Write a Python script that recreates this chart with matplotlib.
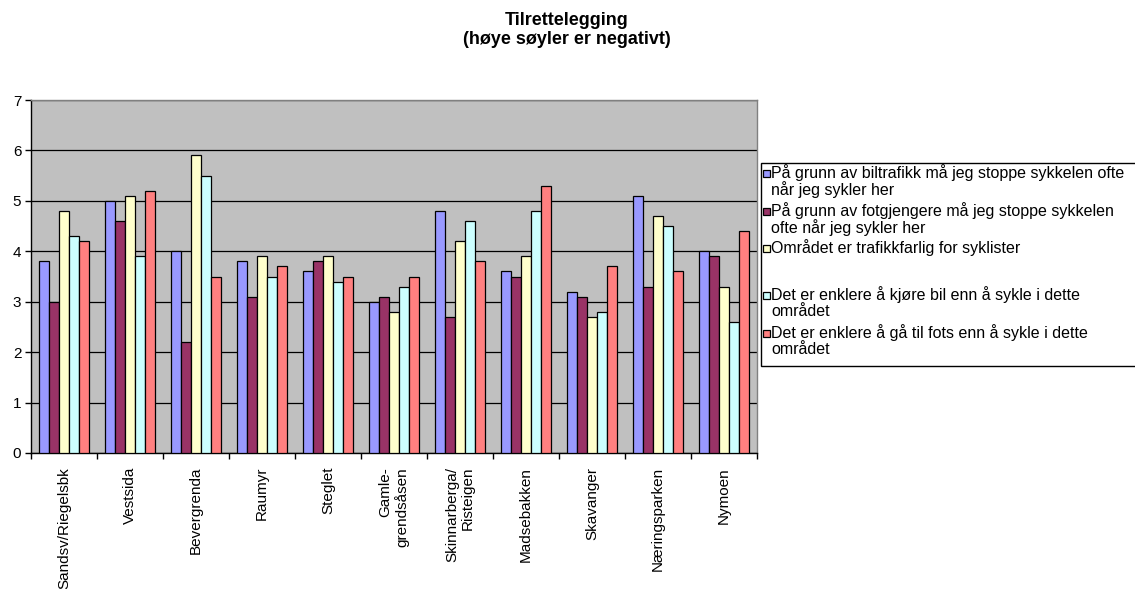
import numpy as np
import matplotlib
matplotlib.use("Agg")
import matplotlib.pyplot as plt
from matplotlib.patches import Rectangle

plt.rcParams['font.family'] = ['Liberation Sans', 'DejaVu Sans']

# Areas along the x axis
areas = ["Sandsv/Riegelsbk", "Vestsida", "Bevergrenda", "Raumyr", "Steglet",
         "Gamle-\ngrendsåsen", "Skinnarberga/\nRisteigen", "Madsebakken",
         "Skavanger", "Næringsparken", "Nymoen"]

# Mean score per statement and area
biltrafikk   = [3.8, 5.0, 4.0, 3.8, 3.6, 3.0, 4.8, 3.6, 3.2, 5.1, 4.0]
fotgjengere  = [3.0, 4.6, 2.2, 3.1, 3.8, 3.1, 2.7, 3.5, 3.1, 3.3, 3.9]
trafikkfarlig = [4.8, 5.1, 5.9, 3.9, 3.9, 2.8, 4.2, 3.9, 2.7, 4.7, 3.3]
enklere_bil  = [4.3, 3.9, 5.5, 3.5, 3.4, 3.3, 4.6, 4.8, 2.8, 4.5, 2.6]
enklere_fots = [4.2, 5.2, 3.5, 3.7, 3.5, 3.5, 3.8, 5.3, 3.7, 3.6, 4.4]

series_names = [
    "På grunn av biltrafikk må jeg stoppe sykkelen ofte\nnår jeg sykler her",
    "På grunn av fotgjengere må jeg stoppe sykkelen\nofte når jeg sykler her",
    "Området er trafikkfarlig for syklister",
    "Det er enklere å kjøre bil enn å sykle i dette\nområdet",
    "Det er enklere å gå til fots enn å sykle i dette\nområdet",
]
series_values = [biltrafikk, fotgjengere, trafikkfarlig, enklere_bil, enklere_fots]
colors = ["#9999FF", "#993366", "#FFFFCC", "#CCFFFF", "#FF8080"]

W, H = 1135, 589
fig = plt.figure(figsize=(W / 100, H / 100), dpi=100)
fig.patch.set_facecolor("white")

def px(x, y):
    return x / W, 1 - y / H

ax = fig.add_axes([31 / W, (H - 453) / H, 726 / W, 353 / H])
ax.set_facecolor("#C0C0C0")

n = len(series_values)
bw = 1 / (n + 1.5)
x = np.arange(len(areas))
for i, (vals, col) in enumerate(zip(series_values, colors)):
    ax.bar(x + (i - (n - 1) / 2) * bw, vals, width=bw, color=col,
           edgecolor="black", linewidth=0.9, zorder=3)

ax.set_xlim(-0.5, len(areas) - 0.5)
ax.set_ylim(0, 7)
ax.set_yticks(range(0, 8))
ax.yaxis.grid(True, color="black", linewidth=0.9, zorder=1)
ax.set_axisbelow(True)

ax.set_xticks(x)
ax.set_xticklabels(areas, rotation=90, fontsize=11, multialignment="right")
ax.set_xticks(np.arange(-0.5, len(areas)), minor=True)
ax.tick_params(axis="x", which="major", length=0, pad=10)
ax.tick_params(axis="x", which="minor", length=4, width=1, color="black")
ax.tick_params(axis="y", length=4, width=1, labelsize=11, pad=3)

for s in ("left", "bottom"):
    ax.spines[s].set_color("black")
    ax.spines[s].set_linewidth(1.0)
for s in ("top", "right"):
    ax.spines[s].set_color("#808080")
    ax.spines[s].set_linewidth(1.0)

fig.text(567 / W, 1 - 30 / H, "Tilrettelegging\n(høye søyler er negativt)",
         ha="center", va="center", fontsize=13, fontweight="bold",
         linespacing=1.2)

# Legend box with a swatch per series
x0, y0 = px(761, 366)
x1, y1 = px(1140, 163)
fig.patches.append(Rectangle((x0, y0), x1 - x0, y1 - y0, transform=fig.transFigure,
                             facecolor="white", edgecolor="black", linewidth=1.0))
entry_y = [173, 211, 248, 295, 333]
for name, col, ey in zip(series_names, colors, entry_y):
    sx, sy = px(762.5, ey + 3.5)
    fig.patches.append(Rectangle((sx, sy), 7 / W, 7 / H, transform=fig.transFigure,
                                 facecolor=col, edgecolor="black", linewidth=0.9,
                                 zorder=5))
    for k, line in enumerate(name.split("\n")):
        tx, ty = px(771, ey + 17 * k)
        fig.text(tx, ty, line, ha="left", va="center", fontsize=11.5)

fig.savefig("out.png", dpi=100)
